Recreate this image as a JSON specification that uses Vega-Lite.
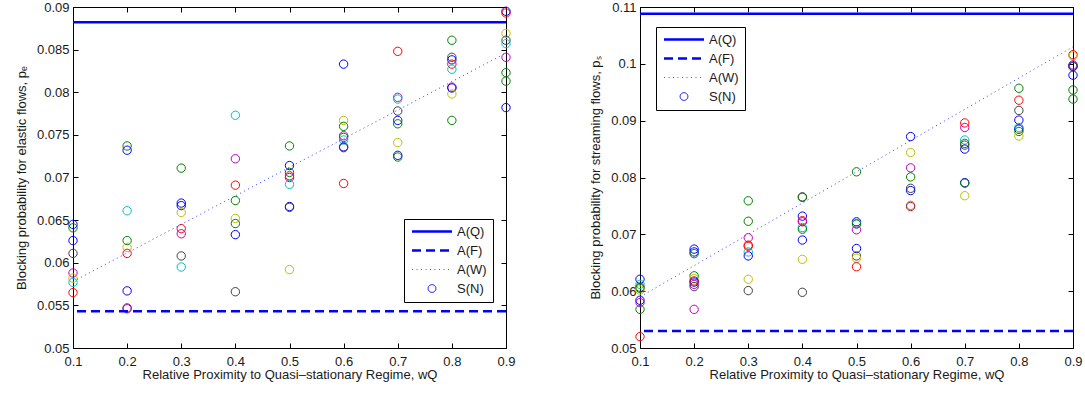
{
  "$schema": "https://vega.github.io/schema/vega-lite/v6.json",
  "padding": {"left": 14, "top": 0, "right": 5, "bottom": 5},
  "config": {
    "font": "Liberation Sans",
    "view": {"stroke": "black", "strokeWidth": 1},
    "axis": {
      "domain": false, "grid": false, "ticks": true, "tickSize": -5, "tickColor": "black", "labelFlush": false,
      "labelFont": "Liberation Sans", "labelFontSize": 13, "labelColor": "#1a1a1a",
      "labelPadding": 9, "titleFont": "Liberation Sans", "titleFontSize": 13,
      "titleFontWeight": "normal", "titleColor": "#1a1a1a"
    },
    "legend": {
      "title": null, "symbolType": "stroke", "symbolStrokeColor": "#0000ff", "symbolFillColor": "transparent",
      "labelFont": "Liberation Sans", "labelFontSize": 13, "labelColor": "#1a1a1a", "padding": 6, "rowPadding": 5,
      "strokeColor": "black", "fillColor": "white", "cornerRadius": 0, "symbolStrokeWidth": 2.5
    }
  },
  "datasets": {
    "leftPts": [
      {"x": 0.1, "y": 0.0645, "run": "b"}, {"x": 0.1, "y": 0.0641, "run": "g"}, {"x": 0.1, "y": 0.0626, "run": "b"}, {"x": 0.1, "y": 0.0611, "run": "k"}, {"x": 0.1, "y": 0.0588, "run": "m"}, {"x": 0.1, "y": 0.0582, "run": "y"}, {"x": 0.1, "y": 0.0577, "run": "c"}, {"x": 0.1, "y": 0.0565, "run": "r"},
      {"x": 0.2, "y": 0.0737, "run": "g"}, {"x": 0.2, "y": 0.0732, "run": "b"}, {"x": 0.2, "y": 0.0661, "run": "c"}, {"x": 0.2, "y": 0.0626, "run": "g"}, {"x": 0.2, "y": 0.0618, "run": "y"}, {"x": 0.2, "y": 0.0611, "run": "r"}, {"x": 0.2, "y": 0.0567, "run": "b"}, {"x": 0.2, "y": 0.0547, "run": "k"}, {"x": 0.2, "y": 0.0546, "run": "m"},
      {"x": 0.3, "y": 0.0711, "run": "g"}, {"x": 0.3, "y": 0.0670, "run": "b"}, {"x": 0.3, "y": 0.0667, "run": "b"}, {"x": 0.3, "y": 0.0659, "run": "y"}, {"x": 0.3, "y": 0.0640, "run": "r"}, {"x": 0.3, "y": 0.0634, "run": "m"}, {"x": 0.3, "y": 0.0608, "run": "k"}, {"x": 0.3, "y": 0.0595, "run": "c"},
      {"x": 0.4, "y": 0.0773, "run": "c"}, {"x": 0.4, "y": 0.0722, "run": "m"}, {"x": 0.4, "y": 0.0691, "run": "r"}, {"x": 0.4, "y": 0.0673, "run": "g"}, {"x": 0.4, "y": 0.0652, "run": "y"}, {"x": 0.4, "y": 0.0646, "run": "g"}, {"x": 0.4, "y": 0.0633, "run": "b"}, {"x": 0.4, "y": 0.0566, "run": "k"},
      {"x": 0.5, "y": 0.0737, "run": "g"}, {"x": 0.5, "y": 0.0714, "run": "b"}, {"x": 0.5, "y": 0.0706, "run": "g"}, {"x": 0.5, "y": 0.0702, "run": "r"}, {"x": 0.5, "y": 0.0700, "run": "m"}, {"x": 0.5, "y": 0.0692, "run": "c"}, {"x": 0.5, "y": 0.0666, "run": "b"}, {"x": 0.5, "y": 0.0665, "run": "k"}, {"x": 0.5, "y": 0.0592, "run": "y"},
      {"x": 0.6, "y": 0.0833, "run": "b"}, {"x": 0.6, "y": 0.0767, "run": "y"}, {"x": 0.6, "y": 0.0760, "run": "g"}, {"x": 0.6, "y": 0.0749, "run": "m"}, {"x": 0.6, "y": 0.0747, "run": "g"}, {"x": 0.6, "y": 0.0744, "run": "c"}, {"x": 0.6, "y": 0.0736, "run": "b"}, {"x": 0.6, "y": 0.0735, "run": "k"}, {"x": 0.6, "y": 0.0693, "run": "r"},
      {"x": 0.7, "y": 0.0848, "run": "r"}, {"x": 0.7, "y": 0.0794, "run": "m"}, {"x": 0.7, "y": 0.0792, "run": "c"}, {"x": 0.7, "y": 0.0778, "run": "k"}, {"x": 0.7, "y": 0.0767, "run": "b"}, {"x": 0.7, "y": 0.0763, "run": "g"}, {"x": 0.7, "y": 0.0741, "run": "y"}, {"x": 0.7, "y": 0.0726, "run": "b"}, {"x": 0.7, "y": 0.0724, "run": "g"},
      {"x": 0.8, "y": 0.0861, "run": "g"}, {"x": 0.8, "y": 0.0841, "run": "k"}, {"x": 0.8, "y": 0.0838, "run": "b"}, {"x": 0.8, "y": 0.0833, "run": "r"}, {"x": 0.8, "y": 0.0827, "run": "c"}, {"x": 0.8, "y": 0.0806, "run": "m"}, {"x": 0.8, "y": 0.0805, "run": "b"}, {"x": 0.8, "y": 0.0798, "run": "y"}, {"x": 0.8, "y": 0.0767, "run": "g"},
      {"x": 0.9, "y": 0.0895, "run": "b"}, {"x": 0.9, "y": 0.0893, "run": "r"}, {"x": 0.9, "y": 0.0869, "run": "y"}, {"x": 0.9, "y": 0.0861, "run": "k"}, {"x": 0.9, "y": 0.0857, "run": "c"}, {"x": 0.9, "y": 0.0841, "run": "m"}, {"x": 0.9, "y": 0.0823, "run": "g"}, {"x": 0.9, "y": 0.0813, "run": "g"}, {"x": 0.9, "y": 0.0782, "run": "b"}
    ],
    "rightPts": [
      {"x": 0.1, "y": 0.0621, "run": "b"}, {"x": 0.1, "y": 0.0612, "run": "c"}, {"x": 0.1, "y": 0.0607, "run": "k"}, {"x": 0.1, "y": 0.0605, "run": "g"}, {"x": 0.1, "y": 0.0602, "run": "y"}, {"x": 0.1, "y": 0.0584, "run": "b"}, {"x": 0.1, "y": 0.0580, "run": "m"}, {"x": 0.1, "y": 0.0568, "run": "g"}, {"x": 0.1, "y": 0.0520, "run": "r"},
      {"x": 0.2, "y": 0.0674, "run": "b"}, {"x": 0.2, "y": 0.0669, "run": "b"}, {"x": 0.2, "y": 0.0666, "run": "g"}, {"x": 0.2, "y": 0.0627, "run": "g"}, {"x": 0.2, "y": 0.0622, "run": "y"}, {"x": 0.2, "y": 0.0618, "run": "r"}, {"x": 0.2, "y": 0.0616, "run": "b"}, {"x": 0.2, "y": 0.0612, "run": "m"}, {"x": 0.2, "y": 0.0608, "run": "k"}, {"x": 0.2, "y": 0.0568, "run": "m"},
      {"x": 0.3, "y": 0.0759, "run": "g"}, {"x": 0.3, "y": 0.0723, "run": "g"}, {"x": 0.3, "y": 0.0694, "run": "m"}, {"x": 0.3, "y": 0.0681, "run": "r"}, {"x": 0.3, "y": 0.0679, "run": "r"}, {"x": 0.3, "y": 0.0669, "run": "c"}, {"x": 0.3, "y": 0.0662, "run": "b"}, {"x": 0.3, "y": 0.0621, "run": "y"}, {"x": 0.3, "y": 0.0601, "run": "k"},
      {"x": 0.4, "y": 0.0766, "run": "k"}, {"x": 0.4, "y": 0.0765, "run": "g"}, {"x": 0.4, "y": 0.0732, "run": "b"}, {"x": 0.4, "y": 0.0724, "run": "r"}, {"x": 0.4, "y": 0.0722, "run": "m"}, {"x": 0.4, "y": 0.0712, "run": "c"}, {"x": 0.4, "y": 0.0709, "run": "g"}, {"x": 0.4, "y": 0.0690, "run": "b"}, {"x": 0.4, "y": 0.0656, "run": "y"}, {"x": 0.4, "y": 0.0598, "run": "k"},
      {"x": 0.5, "y": 0.0810, "run": "g"}, {"x": 0.5, "y": 0.0722, "run": "b"}, {"x": 0.5, "y": 0.0719, "run": "c"}, {"x": 0.5, "y": 0.0718, "run": "g"}, {"x": 0.5, "y": 0.0708, "run": "m"}, {"x": 0.5, "y": 0.0675, "run": "b"}, {"x": 0.5, "y": 0.0662, "run": "k"}, {"x": 0.5, "y": 0.0658, "run": "y"}, {"x": 0.5, "y": 0.0643, "run": "r"},
      {"x": 0.6, "y": 0.0872, "run": "b"}, {"x": 0.6, "y": 0.0844, "run": "y"}, {"x": 0.6, "y": 0.0817, "run": "m"}, {"x": 0.6, "y": 0.0801, "run": "g"}, {"x": 0.6, "y": 0.0781, "run": "k"}, {"x": 0.6, "y": 0.0777, "run": "b"}, {"x": 0.6, "y": 0.0751, "run": "c"}, {"x": 0.6, "y": 0.0749, "run": "r"},
      {"x": 0.7, "y": 0.0896, "run": "r"}, {"x": 0.7, "y": 0.0888, "run": "m"}, {"x": 0.7, "y": 0.0866, "run": "c"}, {"x": 0.7, "y": 0.0860, "run": "g"}, {"x": 0.7, "y": 0.0857, "run": "k"}, {"x": 0.7, "y": 0.0850, "run": "b"}, {"x": 0.7, "y": 0.0791, "run": "b"}, {"x": 0.7, "y": 0.0790, "run": "g"}, {"x": 0.7, "y": 0.0768, "run": "y"},
      {"x": 0.8, "y": 0.0957, "run": "g"}, {"x": 0.8, "y": 0.0936, "run": "r"}, {"x": 0.8, "y": 0.0918, "run": "k"}, {"x": 0.8, "y": 0.0901, "run": "b"}, {"x": 0.8, "y": 0.0888, "run": "c"}, {"x": 0.8, "y": 0.0885, "run": "b"}, {"x": 0.8, "y": 0.0881, "run": "g"}, {"x": 0.8, "y": 0.0873, "run": "y"},
      {"x": 0.9, "y": 0.1016, "run": "r"}, {"x": 0.9, "y": 0.1014, "run": "y"}, {"x": 0.9, "y": 0.0998, "run": "m"}, {"x": 0.9, "y": 0.0996, "run": "b"}, {"x": 0.9, "y": 0.0995, "run": "k"}, {"x": 0.9, "y": 0.0980, "run": "b"}, {"x": 0.9, "y": 0.0954, "run": "g"}, {"x": 0.9, "y": 0.0938, "run": "g"}
    ],
    "leftH": [{"series": "A(Q)", "y": 0.0882}, {"series": "A(F)", "y": 0.0543}],
    "leftW": [{"series": "A(W)", "x": 0.1, "y": 0.0578}, {"series": "A(W)", "x": 0.9, "y": 0.0846}],
    "rightH": [{"series": "A(Q)", "y": 0.1088}, {"series": "A(F)", "y": 0.0530}],
    "rightW": [{"series": "A(W)", "x": 0.1, "y": 0.0590}, {"series": "A(W)", "x": 0.9, "y": 0.1030}]
  },
  "spacing": 73,
  "resolve": {"scale": {"x": "independent", "y": "independent", "strokeDash": "independent", "color": "independent"}, "legend": {"strokeDash": "independent"}},
  "hconcat": [
    {
      "width": 433, "height": 341,
      "resolve": {"axis": {"x": "independent", "y": "independent"}},
      "layer": [
        {
          "data": {"name": "leftPts"},
          "mark": {"type": "point", "shape": "circle", "filled": false, "size": 70, "strokeWidth": 1, "opacity": 1},
          "encoding": {
            "x": {"field": "x", "type": "quantitative", "scale": {"domain": [0.1, 0.9], "nice": false, "zero": false},
                  "axis": {"values": [0.1, 0.2, 0.3, 0.4, 0.5, 0.6, 0.7, 0.8, 0.9], "format": ".1f", "labelPadding": 12, "title": "Relative Proximity to Quasi–stationary Regime, wQ", "titlePadding": 0}},
            "y": {"field": "y", "type": "quantitative", "scale": {"domain": [0.05, 0.09], "nice": false, "zero": false},
                  "axis": {"values": [0.05, 0.055, 0.06, 0.065, 0.07, 0.075, 0.08, 0.085, 0.09], "format": ".3~f", "title": "Blocking probability for elastic flows, pₑ", "titlePadding": 8}},
            "color": {"field": "run", "type": "nominal", "legend": null,
                      "scale": {"domain": ["b", "g", "r", "c", "m", "y", "k"], "range": ["#0000ff", "#008000", "#ff0000", "#00bfbf", "#bf00bf", "#bfbf00", "#404040"]}}
          }
        },
        {
          "data": {"name": "leftW"},
          "mark": {"type": "line", "color": "#3a3aff", "strokeWidth": 1},
          "encoding": {
            "x": {"field": "x", "type": "quantitative", "scale": {"domain": [0.1, 0.9], "nice": false, "zero": false},
                  "axis": {"orient": "top", "values": [0.1, 0.2, 0.3, 0.4, 0.5, 0.6, 0.7, 0.8, 0.9], "labels": false, "title": null}},
            "y": {"field": "y", "type": "quantitative", "scale": {"domain": [0.05, 0.09], "nice": false, "zero": false},
                  "axis": {"orient": "right", "values": [0.05, 0.055, 0.06, 0.065, 0.07, 0.075, 0.08, 0.085, 0.09], "labels": false, "title": null}},
            "strokeDash": {"field": "series", "type": "nominal",
              "scale": {"domain": ["A(Q)", "A(F)", "A(W)", "S(N)"], "range": [[1, 0], [9, 5], [1, 3.5], [1, 0]]},
              "legend": {
                "orient": "none", "legendX": 331, "legendY": 212,
                "labelExpr": "datum.label + '\u00a0\u00a0'",
                "encode": {
                  "symbols": {"update": {
                    "x": {"value": 22},
                    "shape": {"signal": "datum.value === 'S(N)' ? 'circle' : 'stroke'"},
                    "size": {"signal": "datum.value === 'S(N)' ? 60 : 1600"},
                    "strokeWidth": {"signal": "datum.value === 'A(W)' || datum.value === 'S(N)' ? 1 : 2.5"},
                    "stroke": {"signal": "datum.value === 'A(W)' ? '#5555ff' : '#0000ff'"},
                    "fill": {"value": "transparent"}
                  }},
                  "labels": {"update": {"x": {"value": 47}}}
                }
              }}
          }
        },
        {
          "data": {"name": "leftH"},
          "mark": {"type": "rule", "color": "#0000ff", "strokeWidth": 2.5},
          "encoding": {
            "y": {"field": "y", "type": "quantitative", "axis": null},
            "strokeDash": {"field": "series", "type": "nominal"}
          }
        }
      ]
    },
    {
      "width": 433, "height": 341,
      "resolve": {"axis": {"x": "independent", "y": "independent"}},
      "layer": [
        {
          "data": {"name": "rightPts"},
          "mark": {"type": "point", "shape": "circle", "filled": false, "size": 70, "strokeWidth": 1, "opacity": 1},
          "encoding": {
            "x": {"field": "x", "type": "quantitative", "scale": {"domain": [0.1, 0.9], "nice": false, "zero": false},
                  "axis": {"values": [0.1, 0.2, 0.3, 0.4, 0.5, 0.6, 0.7, 0.8, 0.9], "format": ".1f", "labelPadding": 12, "title": "Relative Proximity to Quasi–stationary Regime, wQ", "titlePadding": 0}},
            "y": {"field": "y", "type": "quantitative", "scale": {"domain": [0.05, 0.11], "nice": false, "zero": false},
                  "axis": {"values": [0.05, 0.06, 0.07, 0.08, 0.09, 0.1, 0.11], "format": ".2~f", "title": "Blocking probability for streaming flows, pₛ", "titlePadding": 8}},
            "color": {"field": "run", "type": "nominal", "legend": null,
                      "scale": {"domain": ["b", "g", "r", "c", "m", "y", "k"], "range": ["#0000ff", "#008000", "#ff0000", "#00bfbf", "#bf00bf", "#bfbf00", "#404040"]}}
          }
        },
        {
          "data": {"name": "rightW"},
          "mark": {"type": "line", "color": "#3a3aff", "strokeWidth": 1},
          "encoding": {
            "x": {"field": "x", "type": "quantitative", "scale": {"domain": [0.1, 0.9], "nice": false, "zero": false},
                  "axis": {"orient": "top", "values": [0.1, 0.2, 0.3, 0.4, 0.5, 0.6, 0.7, 0.8, 0.9], "labels": false, "title": null}},
            "y": {"field": "y", "type": "quantitative", "scale": {"domain": [0.05, 0.11], "nice": false, "zero": false},
                  "axis": {"orient": "right", "values": [0.05, 0.06, 0.07, 0.08, 0.09, 0.1, 0.11], "labels": false, "title": null}},
            "strokeDash": {"field": "series", "type": "nominal",
              "scale": {"domain": ["A(Q)", "A(F)", "A(W)", "S(N)"], "range": [[1, 0], [9, 5], [1, 3.5], [1, 0]]},
              "legend": {
                "orient": "none", "legendX": 16, "legendY": 20,
                "labelExpr": "datum.label + '\u00a0\u00a0'",
                "encode": {
                  "symbols": {"update": {
                    "x": {"value": 22},
                    "shape": {"signal": "datum.value === 'S(N)' ? 'circle' : 'stroke'"},
                    "size": {"signal": "datum.value === 'S(N)' ? 60 : 1600"},
                    "strokeWidth": {"signal": "datum.value === 'A(W)' || datum.value === 'S(N)' ? 1 : 2.5"},
                    "stroke": {"signal": "datum.value === 'A(W)' ? '#5555ff' : '#0000ff'"},
                    "fill": {"value": "transparent"}
                  }},
                  "labels": {"update": {"x": {"value": 47}}}
                }
              }}
          }
        },
        {
          "data": {"name": "rightH"},
          "mark": {"type": "rule", "color": "#0000ff", "strokeWidth": 2.5},
          "encoding": {
            "y": {"field": "y", "type": "quantitative", "axis": null},
            "strokeDash": {"field": "series", "type": "nominal"}
          }
        }
      ]
    }
  ]
}
